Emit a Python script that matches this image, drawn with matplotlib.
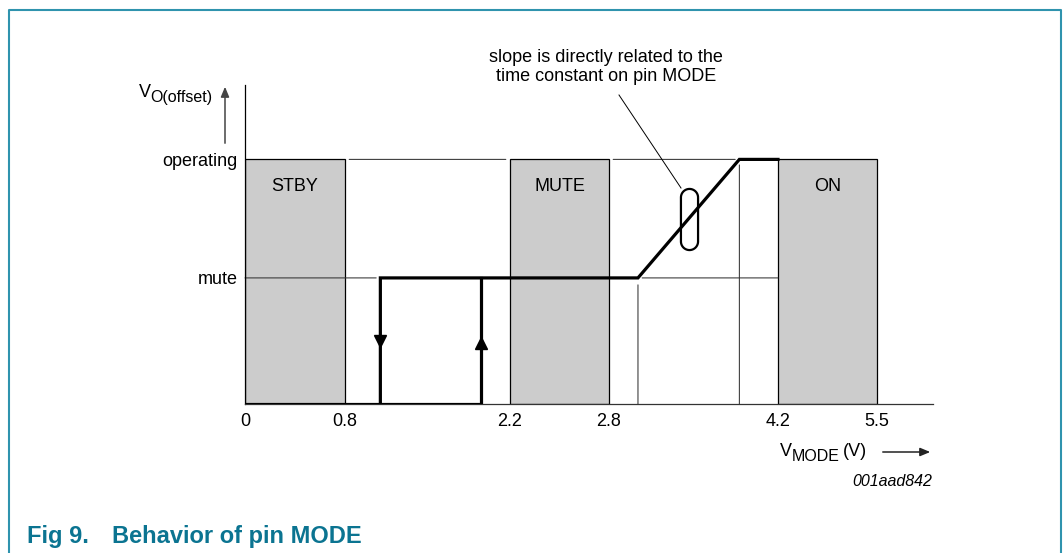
import numpy as np
import matplotlib
matplotlib.use('Agg')
import matplotlib.pyplot as plt
from matplotlib.path import Path
from matplotlib.lines import Line2D

plt.rcParams['font.family'] = ['Liberation Sans', 'DejaVu Sans']

# --- chart values ---
x_ticks = [0, 0.8, 2.2, 2.8, 4.2, 5.5]
x_ticklabels = ['0', '0.8', '2.2', '2.8', '4.2', '5.5']
regions = ['STBY', 'MUTE', 'ON']
region_start = [0, 2.2, 4.2]
region_end = [0.8, 2.8, 5.5]
level_names = ['mute', 'operating']
level_values = [1.0, 1.94]
switch_down = 1.1     # V_MODE where output drops (falling)
switch_up = 1.95      # V_MODE where output rises (rising)
ramp_start = 3.04
ramp_end = 3.88

mute, operating = level_values

# schematic (non-linear) x axis: tick values are not evenly scaled
knot_pos = np.array([0, 100, 265, 364, 533, 632], dtype=float)
knot_val = np.array(x_ticks, dtype=float)
slope_lo = (knot_pos[1] - knot_pos[0]) / (knot_val[1] - knot_val[0])
slope_hi = (knot_pos[-1] - knot_pos[-2]) / (knot_val[-1] - knot_val[-2])

def fwd(x):
    x = np.asarray(x, dtype=float)
    y = np.interp(x, knot_val, knot_pos)
    y = np.where(x > knot_val[-1], knot_pos[-1] + (x - knot_val[-1]) * slope_hi, y)
    y = np.where(x < knot_val[0], knot_pos[0] + (x - knot_val[0]) * slope_lo, y)
    return y

def inv(p):
    p = np.asarray(p, dtype=float)
    x = np.interp(p, knot_pos, knot_val)
    x = np.where(p > knot_pos[-1], knot_val[-1] + (p - knot_pos[-1]) / slope_hi, x)
    x = np.where(p < knot_pos[0], knot_val[0] + (p - knot_pos[0]) / slope_lo, x)
    return x

W, H = 1063, 553
fig = plt.figure(figsize=(W / 100, H / 100), dpi=100)

def fx(px):
    return px / W

def fy(py):
    return 1 - py / H

ax = fig.add_axes([fx(245), fy(404), fx(933) - fx(245), (404 - 85) / H])
ax.set_xscale('function', functions=(fwd, inv))
ax.set_xlim(0, inv(688))
ax.set_ylim(0, 2.53)

for s in ['top', 'right']:
    ax.spines[s].set_visible(False)
ax.spines['left'].set_linewidth(0.9)
ax.spines['bottom'].set_linewidth(0.9)
ax.spines['bottom'].set_color('#333333')

ax.set_xticks(x_ticks)
ax.set_xticklabels(x_ticklabels)
ax.xaxis.set_minor_locator(matplotlib.ticker.NullLocator())
ax.set_yticks(level_values)
ax.set_yticklabels(level_names)
ax.tick_params(axis='x', length=0, pad=6.5, labelsize=13)
ax.tick_params(axis='y', length=0, pad=5.5, labelsize=13)

# shaded regions
widths = [e - s for s, e in zip(region_start, region_end)]
ax.bar(region_start, [operating] * 3, width=widths, align='edge',
       color='#cccccc', edgecolor='black', linewidth=0.9, zorder=1)
for name, s, e in zip(regions, region_start, region_end):
    ax.annotate(name, xy=((s + e) / 2, operating), xytext=(0, -19.5),
                textcoords='offset points', ha='center', va='center', fontsize=13)

# thin guide lines
def guide(x0, y0, x1, y1, sa=0, sb=0):
    ax.annotate('', xy=(x1, y1), xytext=(x0, y0),
                arrowprops=dict(arrowstyle='-', shrinkA=sa, shrinkB=sb,
                                lw=0.75, color='#333333'), zorder=2)

guide(region_end[0], operating, region_start[1], operating, 3, 3)
guide(region_end[1], operating, ramp_end, operating, 3, 3)
guide(0, mute, switch_down, mute, 0, 3)
guide(ramp_start, mute, region_start[2], mute, 3, 0)
guide(ramp_start, mute, ramp_start, 0, 5, 0)
guide(ramp_end, operating, ramp_end, 0, 4, 0)

# output voltage curve (hysteresis loop + ramp)
kw = dict(color='black', lw=2.3, solid_joinstyle='miter', zorder=3)
ax.plot([0, switch_up, switch_up], [0, 0, mute], **kw)
ax.plot([switch_down, switch_down, ramp_start, ramp_end, region_start[2]],
        [0, mute, mute, operating, operating], **kw)
ax.plot([switch_down], [mute / 2], marker='v', ms=9, color='black', zorder=4)
ax.plot([switch_up], [mute / 2 - 0.02], marker='^', ms=9, color='black', zorder=4)

# stadium around the ramp
r = 0.14
t = np.linspace(0, np.pi, 40)
top = np.column_stack([r * np.cos(t), (0.5 - r) + r * np.sin(t)])
bot = np.column_stack([r * np.cos(t + np.pi), -(0.5 - r) + r * np.sin(t + np.pi)])
verts = np.vstack([top, bot, top[:1]])
stadium = Path(verts)
ax.plot([(ramp_start + ramp_end) / 2], [(mute + operating) / 2], marker=stadium,
        ms=44, mfc='none', mec='black', mew=1.6, zorder=5)

# note with leader line
fig.text(fx(606), fy(67), 'slope is directly related to the\ntime constant on pin MODE',
         ha='center', va='center', fontsize=13, linespacing=1.2)
fig.add_artist(Line2D([fx(619), fx(681)], [fy(95), fy(188)], lw=0.7, color='black'))

# axis labels with arrows
fig.text(fx(139), fy(97), 'V', ha='left', va='baseline', fontsize=13)
fig.text(fx(150), fy(102), 'O(offset)', ha='left', va='baseline', fontsize=11.5)
fig.add_artist(matplotlib.patches.FancyArrowPatch(
    (fx(225), fy(146)), (fx(225), fy(84)), transform=fig.transFigure,
    arrowstyle='-|>,head_length=6,head_width=2.5', lw=1.1, color='#444444'))
fig.text(fx(780), fy(456), 'V', ha='left', va='baseline', fontsize=13)
fig.text(fx(792), fy(461), 'MODE', ha='left', va='baseline', fontsize=11.5)
fig.text(fx(843), fy(456), '(V)', ha='left', va='baseline', fontsize=13)
fig.add_artist(matplotlib.patches.FancyArrowPatch(
    (fx(880), fy(452)), (fx(933), fy(452)), transform=fig.transFigure,
    arrowstyle='-|>,head_length=6,head_width=2.5', lw=1.1, color='#222222'))
fig.text(fx(932), fy(482), '001aad842', ha='right', va='center', fontsize=11.5, style='italic')

# caption
cap = '#0b7491'
fig.text(fx(27), fy(543), 'Fig 9.', ha='left', va='baseline', fontsize=17,
         fontweight='bold', color=cap)
fig.text(fx(112), fy(543), 'Behavior of pin MODE', ha='left', va='baseline', fontsize=17,
         fontweight='bold', color=cap)

# page frame
frame = '#2f93ae'
fig.add_artist(Line2D([fx(8.5), fx(8.5), fx(1061), fx(1061)], [0, fy(10), fy(10), 0],
                      lw=1.5, color=frame))

fig.savefig('out.png', dpi=100)
